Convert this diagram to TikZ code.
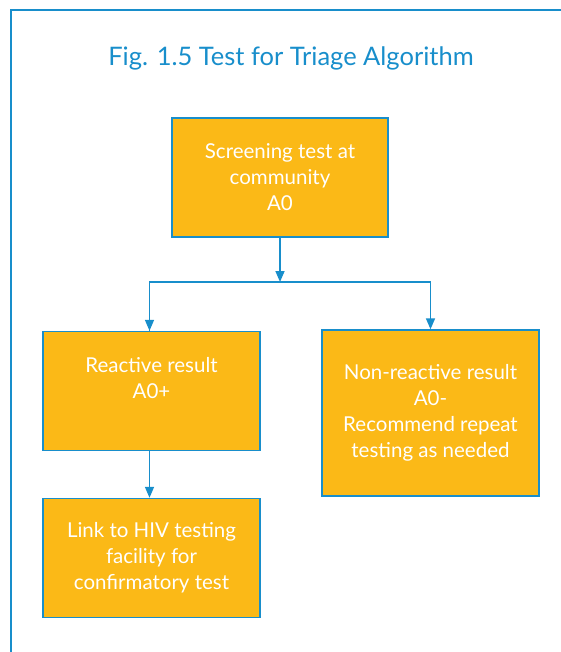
\documentclass[tikz,border=0pt]{standalone}
\usepackage{fontspec}
\setmainfont{Lato}
\usetikzlibrary{arrows.meta}
\definecolor{frameblue}{RGB}{24,142,203}
\definecolor{boxfill}{RGB}{251,185,23}
\tikzset{
  flowbox/.style={draw=frameblue, line width=1.4pt, fill=boxfill, text=white,
    minimum width=217pt, inner sep=0pt, align=center,
    font=\fontsize{20.5}{26}\selectfont},
  flowarrow/.style={draw=frameblue, line width=1.6pt, -{Triangle[width=9pt,length=11pt]}},
  flowline/.style={draw=frameblue, line width=1.6pt}
}
\begin{document}
\begin{tikzpicture}[x=1pt,y=-1pt]
\useasboundingbox (0,0) rectangle (561,652);
\draw[frameblue, line width=2pt] (11,653) -- (11,10) -- (562,10);
\node[text=frameblue, font=\fontsize{25.5}{30}\selectfont] (title) at (291,58) {Fig. 1.5 Test for Triage Algorithm};
\node[flowbox, minimum width=216pt, minimum height=119pt] (screen) at (280,177.5) {Screening test at\\community\\A0};
\node[flowbox, minimum height=119pt] (react) at (151.5,391) {Reactive result\\A0+\\\mbox{}};
\node[flowbox, minimum height=166pt] (nonreact) at (430.5,413) {Non-reactive result\\A0-\\Recommend repeat\\testing as needed};
\node[flowbox, minimum height=119pt] (link) at (151.5,558) {Link to HIV testing\\facility for\\confirmatory test};
\coordinate (junc) at (280,282);
\draw[flowarrow] (screen) -- (junc);
\draw[flowline] (junc) -| ([xshift=-2pt]react.north);
\draw[flowarrow] ([xshift=-2pt]react.north |- junc) -- ([xshift=-2pt]react.north);
\draw[flowarrow] (junc) -| (nonreact.north);
\draw[flowarrow] ([xshift=-2pt]react.south) -- ([xshift=-2pt]link.north);
\end{tikzpicture}
\end{document}
